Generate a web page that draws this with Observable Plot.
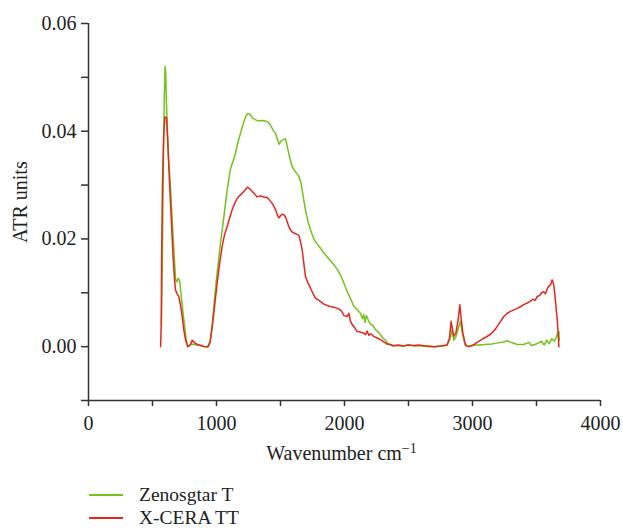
<!DOCTYPE html>
<html>
<head>
<meta charset="utf-8">
<script src="https://cdn.jsdelivr.net/npm/d3@7"></script>
<script src="https://cdn.jsdelivr.net/npm/@observablehq/plot@0.6"></script>
<style>
  html, body { margin: 0; padding: 0; background: #fff; }
  #wrap { position: relative; width: 623px; height: 530px; font-family: "Liberation Serif", "DejaVu Serif", serif; color: #222; }
  #chart svg { display: block; }
  .leg { position: absolute; left: 89px; font-size: 19.5px; line-height: 16px; height: 16px; display: flex; align-items: center; }
  .leg .sw { width: 34px; height: 0; border-top: 2.5px solid; margin-right: 16px; }
</style>
</head>
<body>
<div id="wrap">
  <div id="chart"></div>
  <div id="legend"></div>
</div>
<script>
// ---- Data ----
const seriesNames = ["Zenosgtar T", "X-CERA TT"];
const seriesColors = ["#72c31b", "#e3281f"];

const zenosWavenumber = [570,578,585,592,598,603,608,615,625,640,653,667,680,690,700,712,722,735,750,765,775,800,830,870,900,930,950,966,985,1005,1030,1057,1083,1109,1130,1148,1168,1187,1210,1230,1245,1260,1280,1305,1330,1360,1396,1420,1440,1461,1475,1490,1505,1520,1539,1550,1565,1591,1615,1640,1660,1680,1695,1715,1734,1755,1773,1805,1839,1870,1917,1945,1969,1995,2021,2045,2073,2100,2125,2140,2150,2160,2170,2185,2200,2220,2240,2260,2281,2300,2320,2340,2360,2400,2450,2500,2550,2600,2650,2700,2750,2800,2825,2840,2854,2870,2890,2906,2920,2940,2960,3000,3050,3100,3150,3200,3250,3271,3300,3350,3400,3440,3460,3500,3540,3560,3580,3600,3620,3640,3655,3665,3675,3678];
const zenosAtr = [0.004,0.018,0.035,0.046,0.052,0.051,0.046,0.041,0.035,0.030,0.024,0.018,0.0125,0.012,0.0127,0.0122,0.010,0.007,0.004,0.001,0.0,0.0005,0.0004,0.0002,0.0,0.0,0.001,0.004,0.009,0.0137,0.019,0.024,0.029,0.033,0.0345,0.0359,0.038,0.0396,0.0415,0.0428,0.0433,0.0432,0.0425,0.0421,0.0419,0.042,0.0418,0.0412,0.0403,0.0396,0.0385,0.0376,0.0382,0.0384,0.0386,0.0375,0.0358,0.0334,0.0325,0.0318,0.0305,0.0275,0.0254,0.0232,0.0217,0.0203,0.0195,0.0185,0.0174,0.0165,0.0152,0.0143,0.0133,0.0118,0.0102,0.009,0.0075,0.0068,0.0062,0.0052,0.006,0.0045,0.0058,0.005,0.0042,0.004,0.0032,0.0028,0.0022,0.0016,0.0012,0.0006,0.0003,0.0002,0.0001,0.0003,0.0001,0.0002,0.0,0.0,0.0001,0.0002,0.0015,0.0031,0.0012,0.0018,0.0035,0.0047,0.0025,0.0005,0.0,0.0003,0.0003,0.0004,0.0005,0.0007,0.0009,0.0011,0.0008,0.0004,0.0004,0.0008,0.0002,0.0005,0.001,0.0003,0.0012,0.0006,0.0015,0.001,0.0018,0.0025,0.0028,0.0012];

const xceraWavenumber = [563,568,572,578,588,596,609,620,633,646,661,672,680,693,706,720,732,745,758,776,795,810,830,849,880,910,935,950,966,985,1005,1025,1044,1063,1083,1100,1122,1140,1161,1180,1201,1220,1240,1260,1279,1300,1318,1340,1370,1396,1415,1435,1450,1461,1475,1487,1500,1513,1525,1539,1552,1565,1585,1604,1625,1643,1656,1669,1682,1695,1715,1734,1755,1773,1800,1839,1880,1917,1945,1969,1985,1995,2021,2034,2045,2060,2080,2099,2125,2151,2165,2177,2190,2205,2229,2255,2281,2307,2330,2359,2380,2420,2460,2500,2540,2580,2620,2660,2700,2750,2800,2820,2833,2845,2854,2870,2888,2901,2912,2925,2945,2971,3000,3030,3063,3100,3141,3180,3219,3245,3271,3300,3349,3380,3400,3427,3450,3470,3490,3505,3525,3540,3557,3570,3585,3596,3610,3622,3632,3640,3650,3662,3670,3675];
const xceraAtr = [0.0,0.004,0.018,0.030,0.0395,0.0426,0.0426,0.0377,0.0303,0.0241,0.0167,0.0125,0.0105,0.0098,0.0093,0.0075,0.0056,0.003,0.0013,0.0,0.0003,0.0012,0.0007,0.0004,0.0002,0.0,0.0,0.0008,0.0035,0.0075,0.0118,0.0155,0.0186,0.0208,0.0223,0.0237,0.0254,0.0265,0.0275,0.028,0.0285,0.029,0.0296,0.0293,0.0288,0.0283,0.0278,0.028,0.0278,0.0277,0.0272,0.0266,0.026,0.0254,0.0245,0.0239,0.0243,0.0246,0.0245,0.0241,0.0232,0.0223,0.0214,0.0211,0.0209,0.0207,0.0195,0.018,0.0155,0.013,0.0118,0.0109,0.0098,0.009,0.0086,0.0079,0.0075,0.0073,0.0071,0.0068,0.0063,0.0058,0.0056,0.0062,0.0048,0.0041,0.0035,0.0028,0.0027,0.0025,0.0022,0.0029,0.0021,0.0024,0.0019,0.0016,0.0013,0.0009,0.0005,0.0004,0.0001,0.0003,0.0001,0.0003,0.0002,0.0003,0.0001,0.0001,0.0,0.0001,0.0003,0.0015,0.0047,0.003,0.0019,0.0025,0.005,0.0078,0.005,0.0025,0.0003,0.0,0.0002,0.0007,0.0012,0.0017,0.0023,0.0033,0.0047,0.0056,0.0062,0.0066,0.0071,0.0075,0.0078,0.0081,0.0084,0.0088,0.0086,0.0093,0.0095,0.01,0.0102,0.0098,0.0108,0.0112,0.0115,0.0124,0.0118,0.0105,0.008,0.005,0.002,0.0];

const xTicks = [0,500,1000,1500,2000,2500,3000,3500,4000];
const xTickLabels = [0,1000,2000,3000,4000];
const yTicks = [-0.01,0,0.01,0.02,0.03,0.04,0.05,0.06];
const yTickLabels = [0,0.02,0.04,0.06];
const xLabel = "Wavenumber cm";
const xLabelSup = "−1";
const yLabel = "ATR units";

// ---- Build table ----
const zenos = zenosWavenumber.map((w, i) => ({w, a: zenosAtr[i], s: seriesNames[0]}));
const xcera = xceraWavenumber.map((w, i) => ({w, a: xceraAtr[i], s: seriesNames[1]}));

const axisColor = "#333";
const chart = Plot.plot({
  width: 623,
  height: 475,
  marginLeft: 88,
  marginRight: 23,
  marginTop: 23,
  marginBottom: 75,
  style: {fontFamily: "'Liberation Serif', 'DejaVu Serif', serif", fontSize: "20px", color: "#222", background: "#fff", overflow: "visible"},
  x: {domain: [0, 4000]},
  y: {domain: [-0.01, 0.06]},
  marks: [
    Plot.ruleX([0], {y1: -0.01, y2: 0.06, stroke: axisColor, strokeWidth: 1.5}),
    Plot.ruleY([-0.01], {x1: 0, x2: 4000, stroke: axisColor, strokeWidth: 1.5}),
    Plot.axisX({ticks: xTicks, tickFormat: d => xTickLabels.includes(d) ? String(d) : "", tickSize: 6, tickPadding: 9, stroke: axisColor, strokeWidth: 1.5, label: null}),
    Plot.axisY({ticks: yTicks, tickFormat: d => yTickLabels.some(v => Math.abs(v - d) < 1e-9) ? d3.format(".2f")(d) : "", tickSize: 7, tickPadding: 5, stroke: axisColor, strokeWidth: 1.5, label: null}),
    Plot.line(zenos, {x: "w", y: "a", stroke: seriesColors[0], strokeWidth: 1.5}),
    Plot.line(xcera, {x: "w", y: "a", stroke: seriesColors[1], strokeWidth: 1.5}),
    Plot.text([xLabel], {frameAnchor: "bottom", dy: 59, dx: -3, text: d => d, className: "xlab", fill: "#222"}),
    Plot.text([yLabel], {frameAnchor: "left", dx: -68, dy: 31, rotate: -90, text: d => d, className: "ylab", fill: "#222"})
  ]
});
document.getElementById("chart").appendChild(chart);

// superscript on the x-axis label
const xt = d3.select(chart).select(".xlab text");
xt.text(xLabel);
xt.append("tspan").attr("dy", "-0.45em").attr("font-size", "0.7em").text(xLabelSup);

// ---- Legend ----
const legend = document.getElementById("legend");
const legendTops = [487, 510];
seriesNames.forEach((name, i) => {
  const item = document.createElement("div");
  item.className = "leg";
  item.style.top = legendTops[i] + "px";
  const sw = document.createElement("span");
  sw.className = "sw";
  sw.style.borderTopColor = seriesColors[i];
  const tx = document.createElement("span");
  tx.textContent = name;
  item.appendChild(sw);
  item.appendChild(tx);
  legend.appendChild(item);
});
</script>
</body>
</html>
